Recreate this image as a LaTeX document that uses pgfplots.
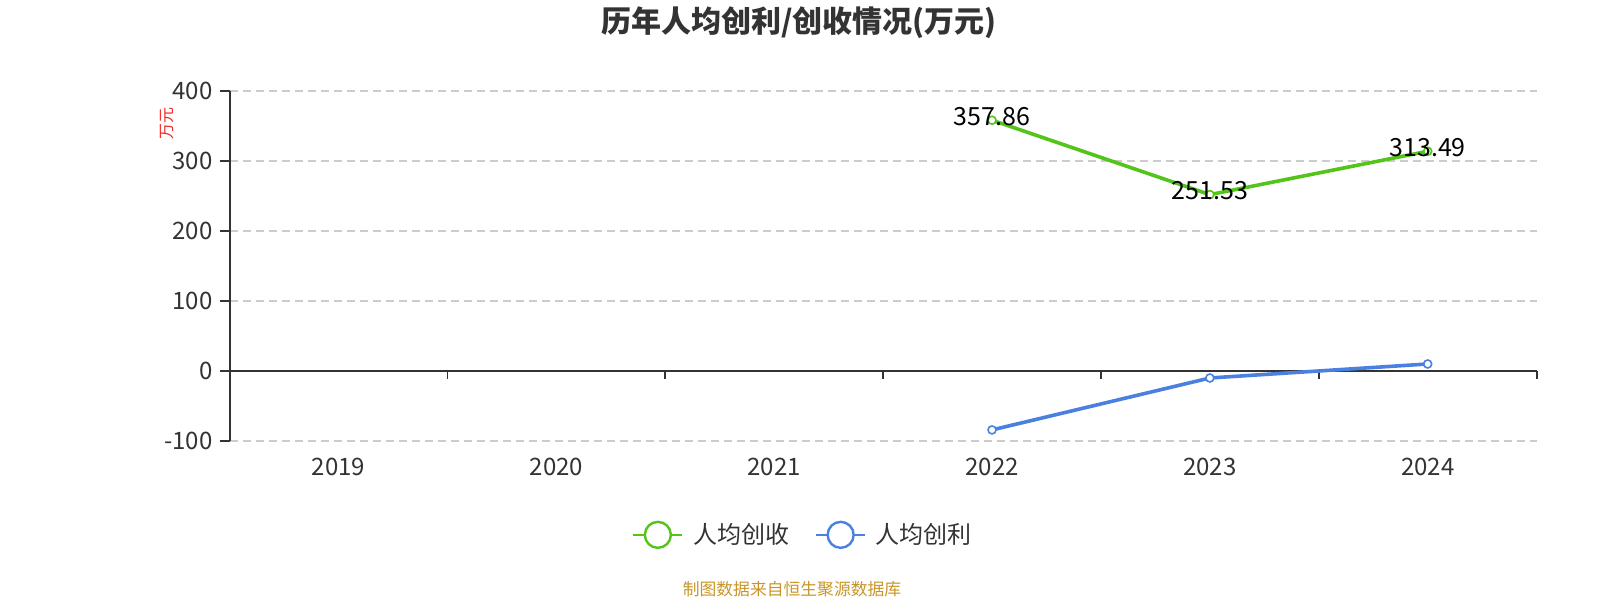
\documentclass[border=0pt]{standalone}
\usepackage{fontspec}
\setmainfont{Noto Sans CJK SC}
\usepackage{pgfplots}
\pgfplotsset{compat=1.18}
\definecolor{cgreen}{RGB}{82,196,26}
\definecolor{cblue}{RGB}{74,128,224}
\definecolor{ctext}{RGB}{51,51,51}
\definecolor{cgrid}{RGB}{204,204,204}
\definecolor{cfoot}{RGB}{200,150,40}
\definecolor{cred}{RGB}{240,40,40}
\begin{document}
\begin{tikzpicture}[x=1pt,y=1pt]
\useasboundingbox (0,0) rectangle (800,300);
\begin{axis}[
  at={(114.8pt,79.65pt)}, anchor=south west,
  scale only axis, width=653.5pt, height=175pt,
  xmin=-0.5, xmax=5.5, ymin=-100, ymax=400,
  axis y line=left, axis x line=bottom,
  x axis line style={draw=none},
  y axis line style={ctext, line width=0.9pt, -},
  xtick={0,1,2,3,4,5},
  xticklabels={2019,2020,2021,2022,2023,2024},
  ytick={-100,0,100,200,300,400},
  x tick style={draw=none},
  y tick style={ctext, line width=0.9pt},
  tick align=outside,
  major tick length=5pt,
  /pgf/number format/assume math mode=true,
  ticklabel style={font=\fontsize{12}{14}\selectfont, text=ctext},
  xticklabel style={anchor=base, yshift=-12.5pt},
  yticklabel style={anchor=east, xshift=0pt},
  ymajorgrids,
  major grid style={cgrid, dash pattern=on 4pt off 2.5pt, line width=0.8pt},
  clip=false,
  legend style={draw=none, fill=none, at={(0.4396,-0.269)}, anchor=center,
    font=\fontsize{12}{14}\selectfont, text=ctext,
    /tikz/every even column/.append style={column sep=11pt}},
  legend columns=2,
  legend cell align=left,
]
\draw[ctext, line width=0.9pt] (axis cs:-0.5,0) -- (axis cs:5.5,0);
\pgfplotsinvokeforeach{-0.5,0.5,1.5,2.5,3.5,4.5,5.5}{
  \draw[ctext, line width=0.9pt] (axis cs:#1,0) -- ([yshift=-4pt]axis cs:#1,0);
}
\addplot[cgreen, line width=1.8pt, mark=*, mark size=2pt,
  mark options={fill=white, draw=cgreen, line width=0.8pt},
  nodes near coords, point meta=explicit symbolic,
  every node near coord/.append style={anchor=center, yshift=2pt, text=black,
    font=\fontsize{12.5}{14}\selectfont},
  legend image code/.code={
    \draw[cgreen, line width=1pt] (0pt,0pt) -- (24.5pt,0pt);
    \draw[cgreen, line width=1.2pt, fill=white] (12.25pt,0pt) circle (6.5pt);
    \path (27pt,0pt);}
] table[meta=label] {
x y label
3 357.86 357.86
4 251.53 251.53
5 313.49 313.49
};
\addlegendentry{人均创收}
\addplot[cblue, line width=1.8pt, mark=*, mark size=2pt,
  mark options={fill=white, draw=cblue, line width=0.8pt},
  legend image code/.code={
    \draw[cblue, line width=1pt] (0pt,0pt) -- (24.5pt,0pt);
    \draw[cblue, line width=1.2pt, fill=white] (12.25pt,0pt) circle (6.5pt);
    \path (27pt,0pt);}
] table {
x y
3 -84.6
4 -10.4
5 9.6
};
\addlegendentry{人均创利}
\end{axis}
\node[text=ctext, font=\fontsize{15}{17}\selectfont\bfseries] at (399.5,288.75) {历年人均创利/创收情况(万元)};
\node[text=cred, font=\fontsize{8}{9}\selectfont, rotate=90] at (83.3,238) {万元};
\node[text=cfoot, font=\fontsize{8.4}{10}\selectfont] at (396,5.5) {制图数据来自恒生聚源数据库};
\end{tikzpicture}
\end{document}
